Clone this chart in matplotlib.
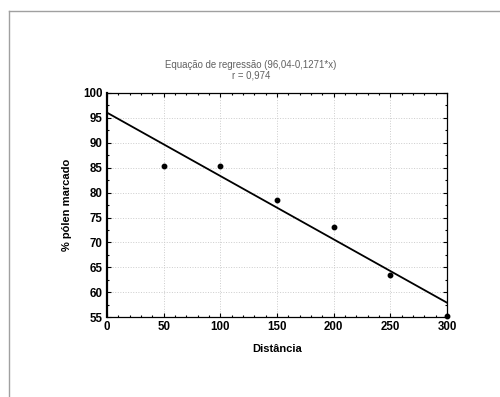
import matplotlib
matplotlib.use("Agg")
import matplotlib.pyplot as plt
from matplotlib.lines import Line2D
from matplotlib.ticker import MultipleLocator
import numpy as np

# Dados
distancia = [50, 100, 150, 200, 250, 300]
polen_marcado = [85.4, 85.4, 78.6, 73.1, 63.4, 55.2]

# Coeficientes da regressão (do título)
intercepto = 96.04
inclinacao = -0.1271
r_valor = "0,974"

plt.rcParams["font.family"] = ["Liberation Sans", "DejaVu Sans"]

fig = plt.figure(figsize=(5.0, 3.97), dpi=100)
ax = fig.add_axes([0.214, 0.201, 0.68, 0.565])

# Linha de regressão
x_linha = np.array([0, 300])
ax.plot(x_linha, intercepto + inclinacao * x_linha, color="black", linewidth=1.3, zorder=3)

# Pontos
ax.plot(distancia, polen_marcado, "o", color="black", markersize=3.2, zorder=4, clip_on=False)

ax.set_xlim(0, 300)
ax.set_ylim(55, 100)
ax.xaxis.set_major_locator(MultipleLocator(50))
ax.xaxis.set_minor_locator(MultipleLocator(10))
ax.yaxis.set_major_locator(MultipleLocator(5))
ax.yaxis.set_minor_locator(MultipleLocator(2.5))

ax.grid(True, which="major", color="#cccccc", linestyle=":", linewidth=0.7)
ax.tick_params(which="both", direction="in", top=True, right=True, width=0.8)
ax.tick_params(which="major", length=3, labelsize=8.3, pad=3)
ax.tick_params(which="minor", length=1.5)
for lab in ax.get_xticklabels() + ax.get_yticklabels():
    lab.set_fontweight("bold")

for s in ax.spines.values():
    s.set_linewidth(0.9)
ax.spines["left"].set_linewidth(1.6)

ax.set_xlabel("Distância", fontsize=8, fontweight="bold", labelpad=8)
ax.set_ylabel("% pólen marcado", fontsize=8, fontweight="bold", labelpad=8)

fig.text(0.502, 0.836, "Equação de regressão (96,04-0,1271*x)", ha="center", va="center",
         fontsize=6.9, color="#606060")
fig.text(0.502, 0.810, "r = " + r_valor, ha="center", va="center",
         fontsize=6.9, color="#606060")

# Moldura cinza
fig.add_artist(Line2D([0.018, 0.018], [0, 0.972], color="#a0a0a0", linewidth=1.0))
fig.add_artist(Line2D([0.018, 1.0], [0.972, 0.972], color="#a0a0a0", linewidth=1.0))

fig.savefig("out.png", dpi=100)
